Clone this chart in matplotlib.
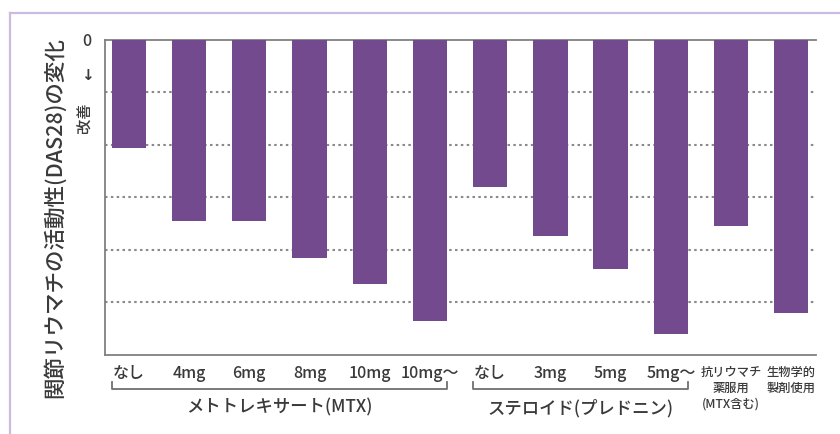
import matplotlib
matplotlib.use("Agg")
import matplotlib.pyplot as plt
from matplotlib.lines import Line2D

plt.rcParams['font.family'] = ['Noto Sans CJK JP', 'DejaVu Sans']
plt.rcParams['font.weight'] = 'medium'

# DAS28 change by treatment (arbitrary downward units, 0 = no change)
categories = ["なし", "4mg", "6mg", "8mg", "10mg", "10mg〜",
              "なし", "3mg", "5mg", "5mg〜",
              "抗リウマチ\n薬服用\n(MTX含む)", "生物学的\n製剤使用"]
das28_change = [2.07, 3.45, 3.45, 4.16, 4.66, 5.35,
                2.80, 3.74, 4.37, 5.61, 3.55, 5.21]
groups = [("メトトレキサート(MTX)", 0, 5), ("ステロイド(プレドニン)", 6, 9)]
y_label = "関節リウマチの活動性(DAS28)の変化"

bar_color = "#744A8F"
text_color = "#3a3a3a"
spine_color = "#808080"
W, H = 840, 434

fig = plt.figure(figsize=(W / 100, H / 100), dpi=100)
fig.patch.set_facecolor("white")

# light purple frame around the panel
fig.add_artist(Line2D([10 / W, 10 / W], [0, 1 - 13 / H], color="#cbbbe0", lw=1.6))
fig.add_artist(Line2D([10 / W, 1], [1 - 13 / H, 1 - 13 / H], color="#cbbbe0", lw=1.6))

ax = fig.add_axes([105 / W, 1 - 354.8 / H, (816 - 105) / W, (354.8 - 39.5) / H])
x = list(range(len(categories)))
bar_w = 0.57
ax.bar(x, das28_change, width=bar_w, color=bar_color, zorder=3)

ax.set_xlim(-0.395, 11.41)
ax.set_ylim(6, 0)
for g in range(1, 6):
    ax.axhline(g, color="#8a8a8a", lw=1.5, ls=(0, (1.2, 1.6)), zorder=1)

for s in ("left", "top", "bottom"):
    ax.spines[s].set_color(spine_color)
    ax.spines[s].set_linewidth(1.3)
ax.spines["right"].set_visible(False)
ax.set_xticks([])
ax.set_yticks([])

# category labels
for xi, lab in zip(x, categories):
    multi = "\n" in lab
    ax.annotate(lab, xy=(xi, 0), xycoords=("data", "axes fraction"),
                xytext=(0, -8 if multi else -7.5), textcoords="offset points",
                ha="center", va="top", fontsize=8.8 if multi else 11.5,
                color=text_color, linespacing=1.3 if multi else 1.2)

# group brackets
for name, i0, i1 in groups:
    x0, x1 = i0 - bar_w / 2, i1 + bar_w / 2
    yb, yt = -34.5 / 315.3, -27 / 315.3
    ax.plot([x0, x0, x1, x1], [yt, yb, yb, yt], transform=ax.get_xaxis_transform(),
            color="#707070", lw=1.3, clip_on=False, solid_joinstyle="round")
    ax.text((x0 + x1) / 2, -53 / 315.3, name, transform=ax.get_xaxis_transform(),
            ha="center", va="center", fontsize=12.5, color=text_color)

# vertical axis annotations
fig.text(55 / W, 1 - 217.5 / H, y_label, rotation=90, ha="center", va="center",
         fontsize=15.5, color=text_color)
fig.text(87 / W, 1 - 41 / H, "0", ha="center", va="center", fontsize=11.5, color=text_color)
fig.text(87 / W, 1 - 76 / H, "↓", ha="center", va="center", fontsize=11, color=text_color,
         family=["DejaVu Sans"], fontweight="bold")
fig.text(85 / W, 1 - 118 / H, "改善", rotation=90, ha="center", va="center",
         fontsize=11, color=text_color)

fig.savefig("out.png", dpi=100, facecolor="white")
